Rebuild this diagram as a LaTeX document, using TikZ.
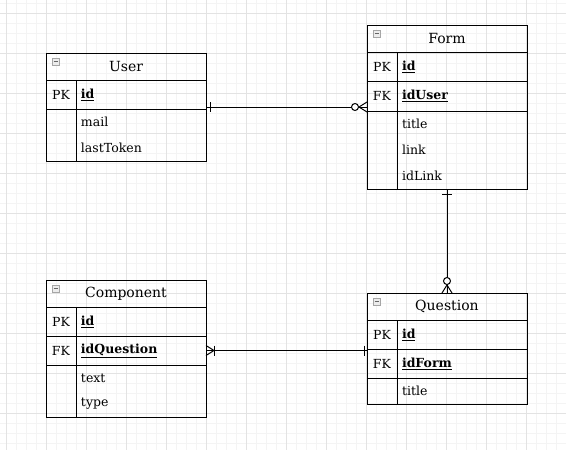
\documentclass[tikz,border=0pt]{standalone}
\usepackage{fontspec}
\setmainfont{DejaVu Serif}
\usetikzlibrary{positioning}

\tikzset{
  tblline/.style={draw=black, line width=1pt, outer sep=0pt},
  entitytitle/.style={tblline, anchor=north west, minimum width=160pt, minimum height=27pt, inner sep=0pt, font=\fontsize{14}{16}\selectfont},
  keycell/.style={tblline, minimum width=30pt, minimum height=29pt, inner sep=0pt, font=\fontsize{12.5}{15}\selectfont},
  keyfield/.style={tblline, minimum width=130pt, minimum height=29pt, inner xsep=5pt, inner ysep=0pt, text width=120pt, align=left, font=\fontsize{12.5}{15}\selectfont\bfseries},
  attrfield/.style={outer sep=0pt, minimum width=130pt, minimum height=26pt, inner xsep=5pt, inner ysep=0pt, text width=120pt, align=left, font=\fontsize{12.5}{15}\selectfont},
  iconbox/.style={draw=gray!70, fill=gray!15, line width=0.7pt},
  minorgrid/.style={draw=gray!9, line width=0.6pt},
  majorgrid/.style={draw=gray!22, line width=0.6pt},
  link/.style={draw=black, line width=1pt}
}

\begin{document}
\begin{tikzpicture}[x=1pt, y=-1pt]
	\useasboundingbox (0,0) rectangle (566,450);

	% Background grid
	\foreach \x in {6,16,...,566} \draw[minorgrid] (\x,0) -- (\x,450);
	\foreach \y in {3,13,...,450} \draw[minorgrid] (0,\y) -- (566,\y);
	\foreach \x in {6,46,...,566} \draw[majorgrid] (\x,0) -- (\x,450);
	\foreach \y in {13,53,...,450} \draw[majorgrid] (0,\y) -- (566,\y);

	% User
	\node[entitytitle] (user-title) at (46,53) {User};
	\node[keycell, below right=0pt of user-title.south west] (user-pk) {PK};
	\node[keyfield, right=0pt of user-pk] (user-id) {\underline{id}};
	\node[attrfield, below right=0pt of user-pk.south east] (user-mail) {mail};
	\node[attrfield, below=0pt of user-mail] (user-lasttoken) {lastToken};
	\draw[tblline] (user-pk.south west) rectangle (user-lasttoken.south east);
	\draw[tblline] (user-pk.south east) -- (user-pk.south east |- user-lasttoken.south);

	% Form
	\node[entitytitle] (form-title) at (367,25) {Form};
	\node[keycell, below right=0pt of form-title.south west] (form-pk) {PK};
	\node[keyfield, right=0pt of form-pk] (form-id) {\underline{id}};
	\node[keycell, minimum height=30pt, below=0pt of form-pk] (form-fk) {FK};
	\node[keyfield, minimum height=30pt, right=0pt of form-fk] (form-iduser) {\underline{idUser}};
	\node[attrfield, below right=0pt of form-fk.south east] (form-formtitle) {title};
	\node[attrfield, below=0pt of form-formtitle] (form-link) {link};
	\node[attrfield, below=0pt of form-link] (form-idlink) {idLink};
	\draw[tblline] (form-fk.south west) rectangle (form-idlink.south east);
	\draw[tblline] (form-fk.south east) -- (form-fk.south east |- form-idlink.south);

	% Component
	\node[entitytitle] (component-title) at (46,280) {Component};
	\node[keycell, below right=0pt of component-title.south west] (component-pk) {PK};
	\node[keyfield, right=0pt of component-pk] (component-id) {\underline{id}};
	\node[keycell, below=0pt of component-pk] (component-fk) {FK};
	\node[keyfield, right=0pt of component-fk] (component-idquestion) {\underline{idQuestion}};
	\node[attrfield, below right=0pt of component-fk.south east] (component-text) {text};
	\node[attrfield, below=0pt of component-text] (component-type) {type};
	\draw[tblline] (component-fk.south west) rectangle (component-type.south east);
	\draw[tblline] (component-fk.south east) -- (component-fk.south east |- component-type.south);

	% Question
	\node[entitytitle] (question-title) at (367,293) {Question};
	\node[keycell, below right=0pt of question-title.south west] (question-pk) {PK};
	\node[keyfield, right=0pt of question-pk] (question-id) {\underline{id}};
	\node[keycell, below=0pt of question-pk] (question-fk) {FK};
	\node[keyfield, right=0pt of question-fk] (question-idform) {\underline{idForm}};
	\node[attrfield, below right=0pt of question-fk.south east] (question-questiontitle) {title};
	\draw[tblline] (question-fk.south west) rectangle (question-questiontitle.south east);
	\draw[tblline] (question-fk.south east) -- (question-fk.south east |- question-questiontitle.south);

	% Collapse icons
	\foreach \t in {user-title, form-title, component-title, question-title} {
		\draw[iconbox] ([shift={(6,5)}]\t.north west) rectangle ++(7,7);
		\draw[draw=gray!80!black, line width=0.9pt] ([shift={(7.5,8.5)}]\t.north west) -- ++(4,0);
	}

	% User -- Form (one to zero-or-many)
	\coordinate (user-end) at ([yshift=2pt]user-id.south east);
	\coordinate (form-end) at (user-end -| form-fk.west);
	\draw[link] (user-end) -- (form-end);
	\draw[link] ([xshift=4pt]user-end) ++(0,-5) -- ++(0,10);
	\draw[link] ([yshift=5pt]form-end) -- ([xshift=-8pt]form-end) -- ([yshift=-5pt]form-end);
	\draw[link, fill=white] ([xshift=-12pt]form-end) circle (3.5pt);

	% Form -- Question (one to zero-or-many)
	\coordinate (form-bottom) at (form-title.south |- form-idlink.south);
	\draw[link] (form-bottom) -- (question-title.north);
	\draw[link] ([yshift=-5pt]form-bottom) ++(-5,0) -- ++(10,0);
	\draw[link] ([xshift=-5pt]question-title.north) -- ([yshift=8pt]question-title.north) -- ([xshift=5pt]question-title.north);
	\draw[link, fill=white] ([yshift=12pt]question-title.north) circle (3.5pt);

	% Component -- Question (one-or-many to one)
	\coordinate (question-end) at (component-idquestion.east -| question-title.west);
	\draw[link] (component-idquestion.east) -- (question-end);
	\draw[link] ([yshift=5pt]component-idquestion.east) -- ([xshift=8pt]component-idquestion.east) -- ([yshift=-5pt]component-idquestion.east);
	\draw[link] ([xshift=8pt]component-idquestion.east) ++(0,-5) -- ++(0,10);
	\draw[link] ([xshift=-3pt]question-end) ++(0,-5) -- ++(0,10);
\end{tikzpicture}
\end{document}
